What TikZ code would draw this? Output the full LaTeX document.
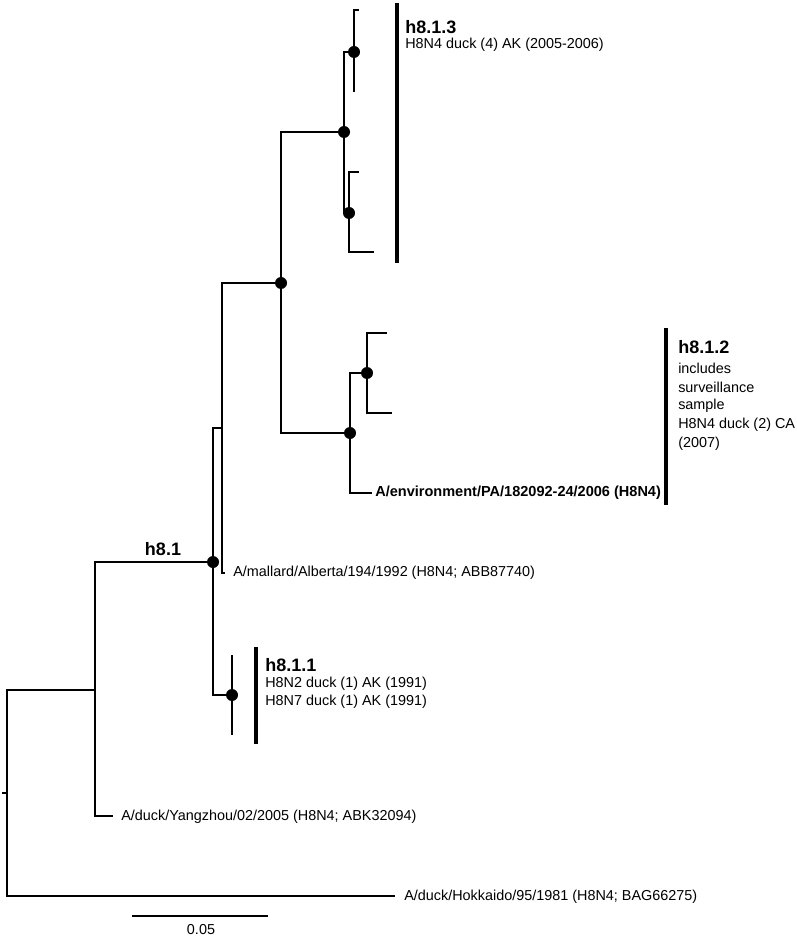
\documentclass[tikz,border=0pt]{standalone}
\usepackage{fontspec}
\setmainfont{Liberation Sans}
\begin{document}
\begin{tikzpicture}[x=0.75pt,y=-0.75pt,
  branch/.style={line width=1.5pt},
  cladebar/.style={line width=2.6pt},
  boot/.style={circle,fill=black,inner sep=0pt,minimum size=9pt},
  leaf/.style={anchor=west,inner sep=0pt,font=\fontsize{10.8pt}{13pt}\selectfont},
  leafbold/.style={anchor=west,inner sep=0pt,font=\fontsize{10.9pt}{13pt}\selectfont\bfseries},
  cladename/.style={anchor=west,inner sep=0pt,font=\fontsize{13.5pt}{15pt}\selectfont\bfseries}]
\useasboundingbox (0,0) rectangle (796,937);
% internal nodes
\coordinate (root) at (7,793);
\coordinate (stub) at (2,793);
\coordinate (n95) at (95,690);
\coordinate (n213) at (213,562);
\coordinate (n222) at (222,428);
\coordinate (n280) at (281,283);
\coordinate (n344) at (344,132);
\coordinate (n354) at (354,52);
\coordinate (n349) at (349,213);
\coordinate (n350) at (350,433);
\coordinate (n367) at (367,373);
\coordinate (n232) at (232,695);
% leaves
\coordinate (l1) at (359,10);
\coordinate (l2) at (354,92);
\coordinate (l3) at (359,172);
\coordinate (l4) at (374,252);
\coordinate (l5) at (387,333);
\coordinate (l6) at (392,413);
\coordinate (lenv) at (372,493);
\coordinate (lmal) at (225,573);
\coordinate (l7) at (232,655);
\coordinate (l8) at (232,735);
\coordinate (lyz) at (113,816);
\coordinate (lhk) at (395,896);
% branches
\draw[branch] (stub) -- (root);
\draw[branch] (root) |- (n95);
\draw[branch] (root) |- (lhk);
\draw[branch] (n95) |- (n213);
\draw[branch] (n95) |- (lyz);
\draw[branch] (n213) |- (n222);
\draw[branch] (n213) |- (n232);
\draw[branch] (n222) |- (n280);
\draw[branch] (n222) |- (lmal);
\draw[branch] (n280) |- (n344);
\draw[branch] (n280) |- (n350);
\draw[branch] (n344) |- (n354);
\draw[branch] (n344) |- (n349);
\draw[branch] (n354) |- (l1);
\draw[branch] (n354) |- (l2);
\draw[branch] (n349) |- (l3);
\draw[branch] (n349) |- (l4);
\draw[branch] (n350) |- (n367);
\draw[branch] (n350) |- (lenv);
\draw[branch] (n367) |- (l5);
\draw[branch] (n367) |- (l6);
\draw[branch] (n232) -- (l7);
\draw[branch] (n232) -- (l8);
% bootstrap dots
\foreach \p in {n213,n280,n344,n354,n349,n350,n367,n232}
  \node[boot] at (\p) {};
% clade bars
\coordinate (b3t) at (397,3);   \coordinate (b3b) at (397,263);
\coordinate (b2t) at (666,328); \coordinate (b2b) at (666,505);
\coordinate (b1t) at (256,647); \coordinate (b1b) at (256,744);
\draw[cladebar] (b3t) -- (b3b);
\draw[cladebar] (b2t) -- (b2b);
\draw[cladebar] (b1t) -- (b1b);
% labels
\node[cladename] (t813) at (405,27) {h8.1.3};
\node[leaf] (t813a) at (405,45) {H8N4 duck (4) AK (2005-2006)};
\node[cladename] (t812) at (678,347) {h8.1.2};
\node[leaf] (t812a) at (678,368) {includes};
\node[leaf] (t812b) at (678,387) {surveillance};
\node[leaf] (t812c) at (678,406) {sample};
\node[leaf] (t812d) at (678,425) {H8N4 duck (2) CA};
\node[leaf] (t812e) at (678,444) {(2007)};
\node[leafbold] (tenv) at (375,493) {A/environment/PA/182092-24/2006 (H8N4)};
\node[cladename,anchor=center] (t81) at (163,549) {h8.1};
\node[leaf] (tmal) at (233,573) {A/mallard/Alberta/194/1992 (H8N4; ABB87740)};
\node[cladename] (t811) at (265,665) {h8.1.1};
\node[leaf] (t811a) at (265,684) {H8N2 duck (1) AK (1991)};
\node[leaf] (t811b) at (265,702) {H8N7 duck (1) AK (1991)};
\node[leaf] (tyz) at (121,817) {A/duck/Yangzhou/02/2005 (H8N4; ABK32094)};
\node[leaf] (thk) at (404,897) {A/duck/Hokkaido/95/1981 (H8N4; BAG66275)};
% scale bar
\coordinate (sb1) at (132,916);
\coordinate (sb2) at (268,916);
\draw[branch] (sb1) -- (sb2);
\node[leaf,anchor=center] (tsb) at (201,930) {0.05};
\end{tikzpicture}
\end{document}
